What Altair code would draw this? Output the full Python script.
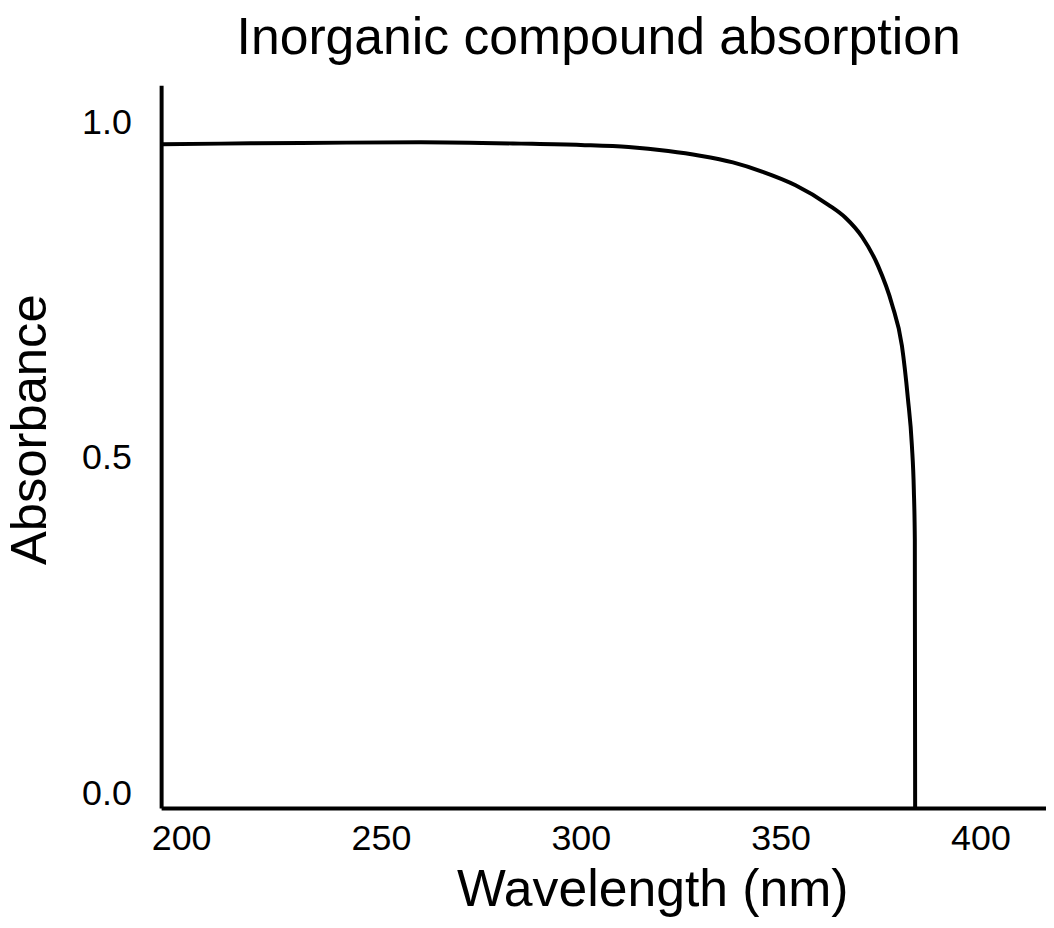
import altair as alt
import pandas as pd

# Curve: wavelength (nm) and absorbance
wavelength = [195.02, 209.95, 230.1, 259.95, 285.07, 300.0, 311.94, 321.89, 329.85,
              338.06, 345.52, 353.73, 361.94, 366.17, 370.4, 374.38, 377.86, 380.35,
              381.84, 382.84, 383.33, 383.58, 383.66]
absorbance = [0.967, 0.968, 0.969, 0.970, 0.968, 0.966, 0.963, 0.957, 0.950,
              0.940, 0.926, 0.906, 0.877, 0.858, 0.829, 0.786, 0.729, 0.667,
              0.589, 0.519, 0.453, 0.379, -0.021]

x_ticks = [200, 250, 300, 350, 400]
y_ticks = [0.0, 0.5, 1.0]

df = pd.DataFrame({"w": wavelength, "a": absorbance, "i": list(range(len(wavelength)))})

FONT = "Liberation Sans"

line = alt.Chart(df).mark_line(color="black", strokeWidth=4, strokeCap="butt",
                               interpolate="monotone").encode(
    x=alt.X("w:Q",
            scale=alt.Scale(domain=[195.0, 416.4], nice=False, zero=False),
            axis=alt.Axis(title="Wavelength (nm)", values=x_ticks, format="d",
                          grid=False, ticks=False, tickSize=0,
                          domainColor="black", domainWidth=4,
                          labelFont=FONT, labelFontSize=36, labelColor="black",
                          labelPadding=14, labelFlush=False,
                          titleFont=FONT, titleFontSize=52, titleFontWeight="normal",
                          titleColor="black", titleX=494, titleY=98,
                          titleBaseline="alphabetic", titleAlign="center")),
    y=alt.Y("a:Q",
            scale=alt.Scale(domain=[-0.021, 1.055], nice=False, zero=False),
            axis=alt.Axis(title="Absorbance", values=y_ticks, format=".1f",
                          grid=False, ticks=False, tickSize=0,
                          domainColor="black", domainWidth=4,
                          labelFont=FONT, labelFontSize=36, labelColor="black",
                          labelPadding=30, labelFlush=False,
                          titleFont=FONT, titleFontSize=51, titleFontWeight="normal",
                          titleColor="black", titleY=346, titlePadding=25)),
    order=alt.Order("i:Q"),
).properties(
    width=890,
    height=727,
    title=alt.TitleParams("Inorganic compound absorption", font=FONT, fontSize=52,
                          fontWeight="normal", color="black", anchor="middle",
                          baseline="alphabetic", offset=-21, dx=-5),
    autosize=alt.AutoSizeParams(type="none"),
    padding={"left": 154, "top": 75, "right": 0, "bottom": 110},
).configure(background="white").configure_view(stroke=None)

line.save("out.html", embed_options={"renderer": "svg", "actions": False})
